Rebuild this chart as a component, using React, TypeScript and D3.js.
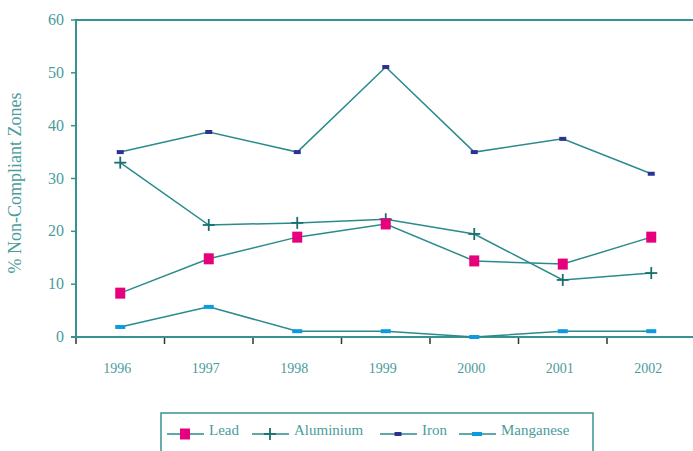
import React from "react";
import * as d3 from "d3";

const years = ["1996", "1997", "1998", "1999", "2000", "2001", "2002"];
const lead = [8.3, 14.8, 18.9, 21.4, 14.4, 13.8, 18.9];
const aluminium = [33.0, 21.2, 21.6, 22.3, 19.5, 10.8, 12.1];
const iron = [35.0, 38.8, 35.0, 51.1, 35.0, 37.5, 30.9];
const manganese = [1.9, 5.7, 1.1, 1.1, 0.0, 1.1, 1.1];
const yTicks = [0, 10, 20, 30, 40, 50, 60];
const seriesNames = ["Lead", "Aluminium", "Iron", "Manganese"];

const W = 693;
const H = 451;
const left = 76;
const top = 20;
const bottom = 337;
const bandW = 88.5;

const LINE = "#2b8b8b";
const AXIS = "#3a9191";
const TEXT = "#4a9c9c";
const FONT = "'Liberation Serif', 'Times New Roman', serif";

type MarkerKind = "lead" | "aluminium" | "iron" | "manganese";

function Marker({ kind, x, y }: { kind: MarkerKind; x: number; y: number }) {
  if (kind === "lead") return <rect x={x - 5} y={y - 5.5} width={10} height={11} fill="#e6007e" />;
  if (kind === "aluminium")
    return (
      <g stroke="#17706f" strokeWidth={1.8}>
        <line x1={x - 6} x2={x + 6} y1={y} y2={y} />
        <line x1={x} x2={x} y1={y - 6} y2={y + 6} />
      </g>
    );
  if (kind === "iron") return <rect x={x - 3.5} y={y - 2} width={7} height={4} fill="#2e3192" />;
  return <rect x={x - 5} y={y - 2} width={10} height={4} fill="#0a9be0" />;
}

export default function App() {
  const x = d3.scaleBand<string>().domain(years).range([left, left + bandW * years.length]);
  const y = d3.scaleLinear().domain([0, 60]).range([bottom, top]);
  const cx = (d: string) => (x(d) ?? 0) + x.bandwidth() / 2;

  const series: { kind: MarkerKind; values: number[] }[] = [
    { kind: "iron", values: iron },
    { kind: "aluminium", values: aluminium },
    { kind: "lead", values: lead },
    { kind: "manganese", values: manganese },
  ];

  const line = d3
    .line<number>()
    .x((_, i) => cx(years[i]))
    .y((v) => y(v));

  const tickXs = d3.range(years.length + 1).map((i) => left + i * x.step());

  const legendItems: { kind: MarkerKind; name: string; lx: number }[] = [
    { kind: "lead", name: seriesNames[0], lx: 167 },
    { kind: "aluminium", name: seriesNames[1], lx: 252 },
    { kind: "iron", name: seriesNames[2], lx: 380 },
    { kind: "manganese", name: seriesNames[3], lx: 459 },
  ];

  return (
    <svg
      width={W}
      height={H}
      style={{ position: "absolute", left: 0, top: 0, display: "block", background: "#fff" }}
      fontFamily={FONT}
    >
      {/* y axis title */}
      <text
        transform={`translate(21,183) rotate(-90)`}
        textAnchor="middle"
        fill={TEXT}
        fontSize={18}
      >
        % Non-Compliant Zones
      </text>

      {/* y ticks and labels */}
      {yTicks.map((t) => (
        <g key={t}>
          <line x1={left - 5} x2={left} y1={y(t)} y2={y(t)} stroke={AXIS} strokeWidth={1.5} />
          <text x={64} y={y(t) + 5} textAnchor="end" fill={TEXT} fontSize={16}>
            {t}
          </text>
        </g>
      ))}

      {/* x ticks */}
      {tickXs.map((tx, i) => (
        <line key={i} x1={tx} x2={tx} y1={bottom} y2={bottom + 7} stroke="#333" strokeWidth={1.5} />
      ))}

      {/* x labels */}
      {years.map((yr) => (
        <text key={yr} x={cx(yr) - 3} y={373} textAnchor="middle" fill={TEXT} fontSize={14}>
          {yr}
        </text>
      ))}

      {/* frame */}
      <line x1={left} x2={W} y1={top} y2={top} stroke={AXIS} strokeWidth={2} />
      <line x1={left} x2={left} y1={top - 1} y2={bottom + 1} stroke={AXIS} strokeWidth={2} />
      <line x1={left - 5} x2={W} y1={bottom} y2={bottom} stroke={AXIS} strokeWidth={2} />

      {/* lines */}
      {series.map((s) => (
        <path key={s.kind} d={line(s.values) ?? ""} fill="none" stroke={LINE} strokeWidth={1.5} />
      ))}
      {series.map((s) =>
        s.values.map((v, i) => <Marker key={s.kind + i} kind={s.kind} x={cx(years[i])} y={y(v)} />)
      )}

      {/* legend */}
      <rect x={161} y={413} width={432} height={60} fill="none" stroke={AXIS} strokeWidth={1.5} />
      {legendItems.map((it) => (
        <g key={it.name}>
          <line x1={it.lx} x2={it.lx + 37} y1={434} y2={434} stroke={LINE} strokeWidth={1.5} />
          <Marker kind={it.kind} x={it.lx + 18} y={434} />
          <text x={it.lx + 42} y={435} fill={TEXT} fontSize={15}>
            {it.name}
          </text>
        </g>
      ))}
    </svg>
  );
}
